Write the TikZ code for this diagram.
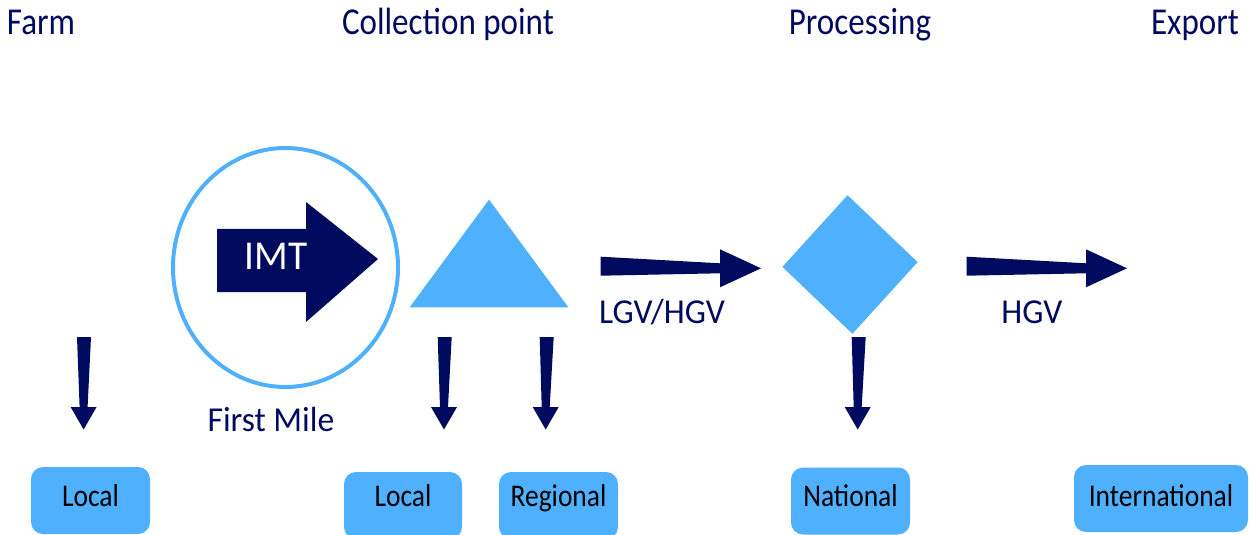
\documentclass[tikz,border=0pt]{standalone}
\usepackage{fontspec}
\setmainfont{Carlito}[FakeStretch=0.87]
\newfontfamily\tagfont{Carlito}[FakeStretch=0.96]
\usepackage{tikz}
\usetikzlibrary{shapes,calc,positioning}

\definecolor{navy}{RGB}{0,11,95}
\definecolor{skyblue}{RGB}{79,176,254}

% tapered block arrows: #1 = start of the shaft, #2 = tip
\newcommand{\blockdown}[2]{%
  \fill[navy] ($(#1)+(-7,0)$) -- ($(#1)+(7,0)$) -- ($(#2)+(4,-22.5)$) -- ($(#2)+(13,-22.5)$)
    -- (#2) -- ($(#2)+(-13,-22.5)$) -- ($(#2)+(-4,-22.5)$) -- cycle;}
\newcommand{\blockright}[2]{%
  \fill[navy] ($(#1)+(0,-9.5)$) -- ($(#2)+(-41,-5)$) -- ($(#2)+(-41,-19)$) -- (#2)
    -- ($(#2)+(-41,19)$) -- ($(#2)+(-41,5)$) -- ($(#1)+(0,9.5)$) -- cycle;}

\begin{document}
\begin{tikzpicture}[x=0.5pt,y=-0.5pt,
    head/.style={text=navy,font=\fontsize{19}{22}\selectfont,inner sep=0pt,anchor=base},
    tag/.style={text=navy,font=\tagfont\fontsize{17.5}{20}\selectfont,inner sep=0pt,anchor=base},
    market/.style={fill=skyblue,rounded corners=6pt,minimum height=33.5pt,minimum width=59.5pt,
      text height=10pt,text depth=4.5pt,inner sep=0pt,font=\fontsize{15.8}{18}\selectfont}]
  \useasboundingbox (0,0) rectangle (1249,535);

  % Column headings
  \node[head] (farm) at (41,35) {Farm};
  \node[head] (collection) at (448,35) {Collection point};
  \node[head] (processing) at (860,35) {Processing};
  \node[head] (export) at (1195,35) {Export};

  % First mile
  \node[ellipse,draw=skyblue,line width=2pt,minimum width=112.5pt,minimum height=119.5pt,inner sep=0pt] (firstmile) at (285.5,267.5) {};
  \fill[navy] (217,229) -- (306,229) -- (306,202) -- (378,259) -- (306,322) -- (306,292) -- (217,292) -- cycle;
  \node[text=white,font=\tagfont\fontsize{20.5}{24}\selectfont,anchor=base,inner sep=0pt] (imt) at (276,270) {IMT};
  \node[tag] (firstlabel) at (271,431) {First Mile};

  % Collection point and processing
  \node[minimum width=79pt,minimum height=53.5pt,inner sep=0pt] (collect) at (489,253.5) {};
  \fill[skyblue] (collect.south west) -- (collect.north) -- (collect.south east) -- cycle;
  \node[diamond,fill=skyblue,minimum width=67.8pt,minimum height=69.5pt,inner sep=0pt,rotate=2] (process) at (850,264.5) {};

  % Transport legs
  \coordinate (lgv-s) at (600.7,266.2);
  \coordinate (lgv-t) at (761,268.3);
  \coordinate (hgv-s) at (966.5,266.2);
  \coordinate (hgv-t) at (1127,268.3);
  \blockright{lgv-s}{lgv-t}
  \blockright{hgv-s}{hgv-t}
  \node[tag] (lgvhgv) at (662,323) {LGV/HGV};
  \node[tag] (hgv) at (1032,323) {HGV};

  % Markets
  \node[market] (farmlocal) at (90.5,500.5) {Local};
  \node[market,minimum width=59pt,text depth=9.5pt] (colllocal) at (403,505.5) {Local};
  \node[market,text depth=9.5pt] (regional) at (558.5,505.5) {Regional};
  \node[market,text depth=5pt] (national) at (850.5,501) {National};
  \node[market,minimum width=87pt,text depth=2.5pt] (international) at (1161,498.5) {International};

  % Down arrows to the markets
  \coordinate (a1) at (84,337);    \coordinate (a1-t) at (83.6,429.5);
  \coordinate (a2) at (444.7,337); \coordinate (a2-t) at (444,429.5);
  \coordinate (a3) at (546.7,337); \coordinate (a3-t) at (545.7,429.5);
  \coordinate (a4) at (858.7,337); \coordinate (a4-t) at (857.7,429.5);
  \blockdown{a1}{a1-t}
  \blockdown{a2}{a2-t}
  \blockdown{a3}{a3-t}
  \blockdown{a4}{a4-t}
\end{tikzpicture}
\end{document}
